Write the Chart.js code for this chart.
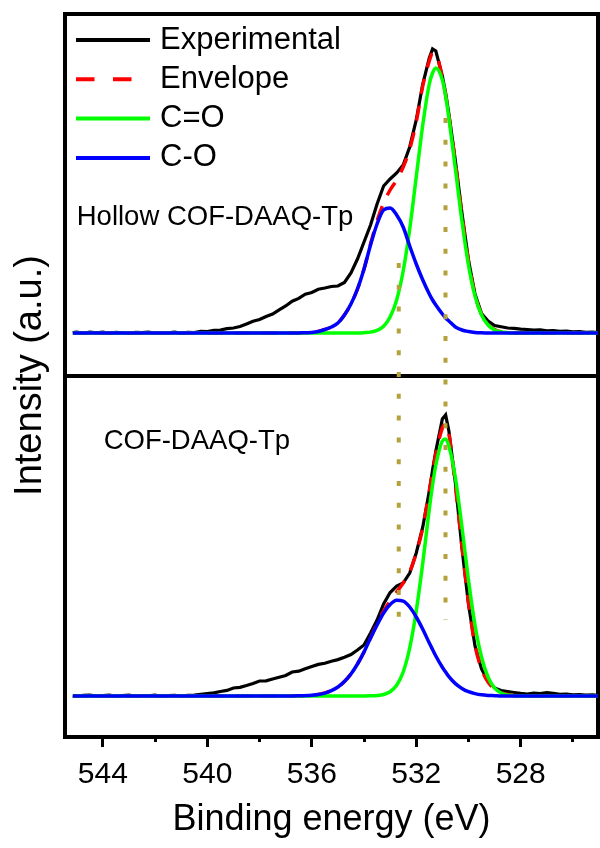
<!DOCTYPE html>
<html>
<head>
<meta charset="utf-8">
<title>O 1s XPS spectra</title>
<script src="https://cdn.jsdelivr.net/npm/chart.js@4.4.0/dist/chart.umd.min.js"></script>
<style>
  html, body { margin: 0; padding: 0; background: #ffffff; }
  #wrap { width: 600px; height: 848px; }
</style>
</head>
<body>
<div id="wrap"><canvas id="xpsChart" width="600" height="848"></canvas></div>
<script>
// O 1s region, binding energy in eV (axis runs from high to low)
const expEnergy = [
  545.15, 545, 544.75, 544.5, 544.25, 544, 543.75, 543.5, 543.25, 543,
  542.75, 542.5, 542.25, 542, 541.75, 541.5, 541.25, 541, 540.75, 540.5,
  540.25, 540, 539.75, 539.5, 539.25, 539, 538.75, 538.5, 538.25, 538,
  537.75, 537.5, 537.25, 537, 536.75, 536.5, 536.25, 536, 535.75, 535.5,
  535.25, 535, 534.75, 534.5, 534.25, 534, 533.75, 533.5, 533.25, 533,
  532.75, 532.5, 532.25, 532, 531.75, 531.5, 531.375, 531.25, 531, 530.875,
  530.75, 530.5, 530.25, 530, 529.75, 529.5, 529.25, 529, 528.75, 528.5,
  528.25, 528, 527.75, 527.5, 527.25, 527, 526.75, 526.5, 526.25, 526,
  525.75, 525.5, 525.25, 525
];

const fitEnergy = [
  545.15, 544, 543, 542, 541, 540, 539, 538, 537.5, 537,
  536.5, 536, 535.75, 535.5, 535.25, 535, 534.75, 534.5, 534.25, 534,
  533.75, 533.5, 533.25, 533, 532.75, 532.5, 532.25, 532, 531.75, 531.5,
  531.375, 531.25, 531, 530.875, 530.75, 530.5, 530.25, 530, 529.75, 529.5,
  529.25, 529, 528.75, 528.5, 528.25, 528, 527.5, 527, 526, 525.5,
  525
];

// Hollow COF-DAAQ-Tp (upper spectrum)
const hollowExp = [
  0.4, 1.0, -0.3, 0.8, 0.1, 0.9, -0.4, 0.6, 0.2, -0.5,
  0.7, 0.3, 1.0, -0.2, 0.5, 0.1, 0.9, -0.3, 0.6, 0.5,
  1.6, 1.4, 2.6, 3.0, 4.4, 5.0, 6.5, 9.0, 11.8, 13.5,
  16.5, 19.0, 23.2, 27.0, 31.8, 34.6, 38.8, 40.5, 43.8, 45.0,
  46.5, 47.0, 50.5, 60.0, 74.0, 91.0, 108.0, 129.0, 147.0, 154.0,
  160.0, 168.0, 186.0, 213.0, 249.0, 275.0, 284.0, 282.0, 257.0, 240.0,
  219.0, 172.0, 120.0, 73.0, 39.0, 19.5, 12.0, 7.5, 6.2, 5.0,
  4.6, 3.8, 3.5, 2.8, 3.1, 2.2, 2.4, 1.6, 2.0, 1.1,
  1.4, 0.6, 1.0, 0.4
];
const hollowEnv = [
  0, 0, 0, 0, 0, 0, 0, 0, 0, 0,
  0.1, 0.5, 1.5, 3.5, 6, 10, 18, 29, 44, 64,
  89, 112, 130, 143, 153, 166, 184, 211, 247, 272,
  280, 279, 255, 238, 217, 170, 118, 72, 38, 18.5,
  8.5, 3.5, 1.2, 0.4, 0, 0, 0, 0, 0, 0,
  0
];
const hollowCdO = [
  0, 0, 0, 0, 0, 0, 0, 0, 0, 0,
  0, 0, 0, 0, 0, 0, 0, 0, 0, 0.3,
  0.9, 2.6, 6.8, 16, 33, 62, 104, 156, 208, 249,
  260, 265, 253, 237, 215, 164, 112, 68, 37, 18,
  8, 3, 1, 0.3, 0, 0, 0, 0, 0, 0,
  0
];
const hollowCO = [
  0, 0, 0, 0, 0, 0, 0, 0, 0, 0,
  0.1, 0.5, 1.5, 3.5, 6, 10, 18, 29, 44, 64,
  88, 109, 123, 125, 118, 106, 87, 69, 53, 39,
  33, 28, 19, 15, 12, 6, 3, 1.5, 0.6, 0.2,
  0, 0, 0, 0, 0, 0, 0, 0, 0, 0,
  0
];

// COF-DAAQ-Tp (lower spectrum)
const bulkExp = [
  0.2, -0.5, 0.6, 0.9, -0.2, 0.5, 1.0, -0.4, 0.4, 0.8,
  -0.3, 0.5, 0.1, 0.8, -0.5, 0.4, 0.7, 0.0, 0.6, 0.9,
  1.6, 2.4, 3.1, 4.5, 5.6, 8.0, 8.6, 10.5, 12.6, 15.0,
  15.2, 17.0, 18.8, 20.5, 24.0, 24.8, 27.2, 29.5, 31.6, 32.8,
  34.8, 36.4, 38.8, 41.5, 46.0, 51.0, 63.0, 76.0, 92.0, 103.5,
  110.0, 113.0, 123.0, 143.0, 169.0, 205.0, 226.0, 245.0, 277.0, 281.0,
  265.0, 213.0, 148.0, 92.0, 50.0, 27.0, 15.0, 8.0, 5.5, 4.5,
  3.5, 2.6, 2.0, 2.8, 2.3, 3.4, 2.6, 1.6, 1.9, 1.2,
  1.5, 0.8, 1.1, 0.5
];
const bulkEnv = [
  0, 0, 0, 0, 0, 0, 0, 0, 0, 0,
  0.2, 0.8, 1.5, 3, 5.3, 9, 14.5, 22, 32, 44,
  58, 72, 85, 95, 104, 113, 124, 143, 168, 205,
  224, 242, 268, 272, 262, 210, 150, 94, 51, 27,
  14, 7, 3.5, 1.5, 0.6, 0.3, 0, 0, 0, 0,
  0
];
const bulkCdO = [
  0, 0, 0, 0, 0, 0, 0, 0, 0, 0,
  0, 0, 0, 0, 0, 0, 0, 0, 0, 0,
  0.13, 0.5, 1.5, 4.3, 10.7, 24, 48, 85, 133, 187,
  211, 231, 255, 257, 250, 218, 169, 116, 71, 39,
  18.7, 8, 3, 1, 0.3, 0, 0, 0, 0, 0,
  0
];
const bulkCO = [
  0, 0, 0, 0, 0, 0, 0, 0, 0, 0,
  0.2, 0.8, 1.5, 2.9, 5.3, 9, 14.5, 22, 32, 44,
  58, 71, 83, 91.5, 95.7, 94.9, 89, 79, 66.7, 53,
  46.5, 40, 28.7, 24, 19.4, 12.4, 7.6, 4.3, 2.4, 1.2,
  0.6, 0.3, 0, 0, 0, 0, 0, 0, 0, 0,
  0
];

const majorTicks = [544, 540, 536, 532, 528];
const minorTicks = [542, 538, 534, 530, 526];

// dotted guides dropped from the lower-spectrum peak positions
const guideEnergy = [532.67, 530.88];
const guideLow = [63, 76];     // lower spectrum intensity
const guideHigh = [70, 215];   // upper spectrum intensity

const seriesNames = ['Experimental', 'Envelope', 'C=O', 'C-O'];
const panelLabels = ['Hollow COF-DAAQ-Tp', 'COF-DAAQ-Tp'];

// layout of the stacked plot
const stackOffset = 363;        // upper spectrum is shifted up by this much
const panelSplit = 320;         // separator between the two panels
const xRange = [525.04, 545.45];
const yRange = [-41, 682];
const labelAt = [[545.0, 479], [543.97, 255]];

const FONT = "'Liberation Sans', Arial, sans-serif";

const styles = [
  { color: '#000000', width: 3.2, dash: [] },
  { color: '#ff0000', width: 3.5, dash: [15, 12] },
  { color: '#00ff00', width: 3.5, dash: [] },
  { color: '#0000ff', width: 3.5, dash: [] }
];

function toPoints(energy, values, offset) {
  return energy.map((e, i) => ({ x: e, y: values[i] + offset }));
}

function spectrumSets(series, offset) {
  return series.map((values, k) => ({
    label: seriesNames[k],
    data: toPoints(k === 0 ? expEnergy : fitEnergy, values, offset),
    borderColor: styles[k].color,
    borderWidth: styles[k].width,
    borderDash: styles[k].dash,
    borderCapStyle: 'butt',
    tension: k === 0 ? 0 : 0.4,
    cubicInterpolationMode: k === 0 ? 'default' : 'monotone',
    pointRadius: 0,
    fill: false,
    order: 4 - k   // experimental at the back, C-O on top
  }));
}

const guideSets = guideEnergy.map((e, i) => ({
  label: 'guide',
  data: [{ x: e, y: guideHigh[i] + stackOffset }, { x: e, y: guideLow[i] }],
  borderColor: '#b3a23b',
  borderWidth: 4,
  borderDash: [5, 16.8],
  borderCapStyle: 'butt',
  pointRadius: 0,
  fill: false,
  order: 0
}));

// frame, panel separator, sample names and the legend
const framePlugin = {
  id: 'frame',
  beforeDatasetsDraw(chart) {
    const { ctx, chartArea: a, scales: { y } } = chart;
    ctx.save();
    ctx.strokeStyle = '#000';
    ctx.lineWidth = 4;
    ctx.strokeRect(a.left, a.top, a.right - a.left, a.bottom - a.top);
    const ys = y.getPixelForValue(panelSplit);
    ctx.beginPath();
    ctx.moveTo(a.left, ys);
    ctx.lineTo(a.right, ys);
    ctx.stroke();
    ctx.restore();
  },
  afterDraw(chart) {
    const { ctx, chartArea: a, scales: { x, y } } = chart;
    ctx.save();
    ctx.fillStyle = '#000';
    ctx.textBaseline = 'middle';
    ctx.textAlign = 'left';

    ctx.font = `27.5px ${FONT}`;
    panelLabels.forEach((text, i) => {
      ctx.fillText(text, x.getPixelForValue(labelAt[i][0]), y.getPixelForValue(labelAt[i][1]));
    });

    ctx.font = `31px ${FONT}`;
    seriesNames.forEach((name, k) => {
      const yy = a.top + 26 + k * 39.3;
      ctx.strokeStyle = styles[k].color;
      ctx.lineWidth = 4;
      ctx.setLineDash(k === 1 ? [18.5, 18.5] : []);
      ctx.beginPath();
      ctx.moveTo(a.left + 11, yy);
      ctx.lineTo(a.left + 85, yy);
      ctx.stroke();
      ctx.setLineDash([]);
      ctx.fillText(name, a.left + 95, yy);
    });
    ctx.restore();
  }
};

const ctx = document.getElementById('xpsChart').getContext('2d');

new Chart(ctx, {
  type: 'line',
  data: {
    datasets: [
      ...guideSets,
      ...spectrumSets([hollowExp, hollowEnv, hollowCdO, hollowCO], stackOffset),
      ...spectrumSets([bulkExp, bulkEnv, bulkCdO, bulkCO], 0)
    ]
  },
  options: {
    responsive: false,
    devicePixelRatio: 1,
    animation: false,
    layout: { padding: { top: 14, right: 2, left: 0, bottom: 0 } },
    plugins: {
      legend: { display: false },
      tooltip: { enabled: false }
    },
    scales: {
      x: {
        type: 'linear',
        position: 'bottom',
        reverse: true,
        min: xRange[0],
        max: xRange[1],
        border: { display: false },
        grid: {
          drawOnChartArea: false,
          tickLength: 10,
          tickWidth: 3,
          tickColor: '#000'
        },
        ticks: {
          color: '#000',
          font: { family: FONT, size: 30 },
          padding: 10,
          maxRotation: 0,
          autoSkip: false
        },
        afterBuildTicks: (axis) => { axis.ticks = majorTicks.map(v => ({ value: v })); },
        title: {
          display: true,
          text: 'Binding energy (eV)',
          color: '#000',
          font: { family: FONT, size: 36 },
          padding: { top: 0, bottom: 6 }
        },
        afterFit: (axis) => { axis.height = 111; }
      },
      xMinor: {
        type: 'linear',
        position: 'bottom',
        weight: -1,
        reverse: true,
        min: xRange[0],
        max: xRange[1],
        border: { display: false },
        grid: {
          drawOnChartArea: false,
          tickLength: 5,
          tickWidth: 3,
          tickColor: '#000'
        },
        ticks: { display: false },
        afterBuildTicks: (axis) => { axis.ticks = minorTicks.map(v => ({ value: v })); },
        afterFit: (axis) => { axis.height = 0; }
      },
      y: {
        type: 'linear',
        min: yRange[0],
        max: yRange[1],
        border: { display: false },
        grid: { display: false },
        ticks: { display: false },
        title: {
          display: true,
          text: 'Intensity (a.u.)',
          color: '#000',
          font: { family: FONT, size: 38 },
          padding: { top: 8, bottom: 0 }
        },
        afterFit: (axis) => { axis.width = 65; }
      }
    }
  },
  plugins: [framePlugin]
});
</script>
</body>
</html>
